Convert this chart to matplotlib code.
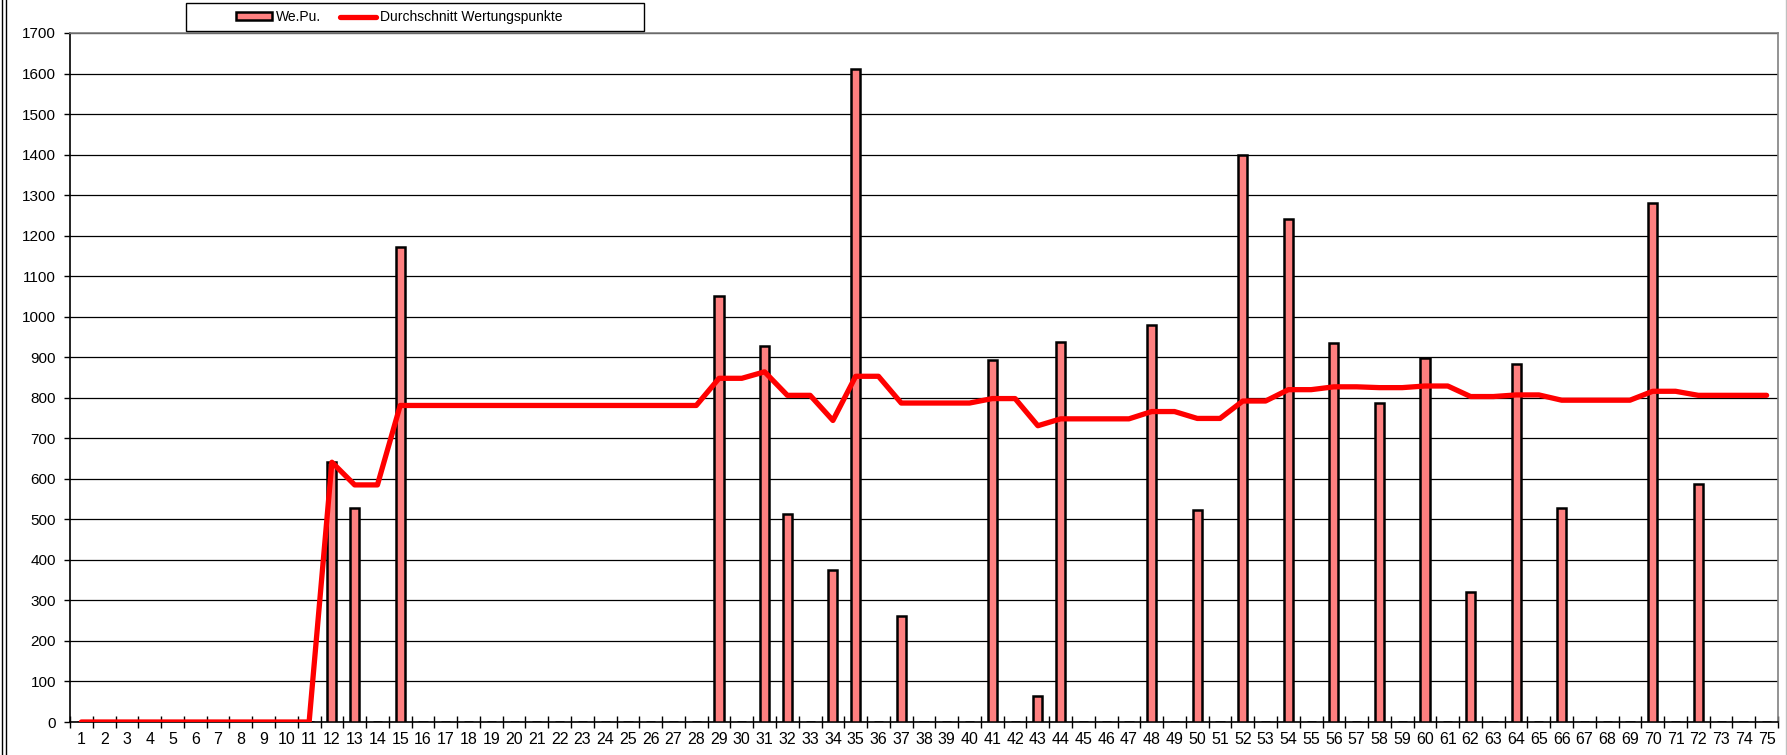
import matplotlib
matplotlib.use("Agg")
import matplotlib.pyplot as plt
from matplotlib.patches import Rectangle
from matplotlib.lines import Line2D
from matplotlib.ticker import FixedLocator, NullFormatter
from matplotlib import font_manager
import numpy as np

plt.rcParams['font.family'] = ['Liberation Sans', 'DejaVu Sans']

names = {f.name for f in font_manager.fontManager.ttflist}
narrow = 'Liberation Sans Narrow' if 'Liberation Sans Narrow' in names else 'Liberation Sans'

categories = [str(i) for i in range(1, 76)]

wepu = [0, 0, 0, 0, 0, 0, 0, 0, 0, 0,
        0, 641, 529, 0, 1173, 0, 0, 0, 0, 0,
        0, 0, 0, 0, 0, 0, 0, 0, 1050, 0,
        928, 514, 0, 375, 1612, 0, 261, 0, 0, 0,
        892, 0, 63, 937, 0, 0, 0, 980, 0, 523,
        0, 1398, 0, 1240, 0, 934, 0, 787, 0, 899,
        0, 321, 0, 883, 0, 528, 0, 0, 0, 1281,
        0, 587, 0, 0, 0]

avg = [0, 0, 0, 0, 0, 0, 0, 0, 0, 0,
       0, 641, 585, 585, 781, 781, 781, 781, 781, 781,
       781, 781, 781, 781, 781, 781, 781, 781, 848, 848,
       864, 806, 806, 744, 853, 853, 787, 787, 787, 787,
       798, 798, 731, 748, 748, 748, 748, 766, 766, 749,
       749, 792, 792, 820, 820, 827, 827, 825, 825, 829,
       829, 803, 803, 807, 807, 794, 794, 794, 794, 816,
       816, 806, 806, 806, 806]

yticks = list(range(0, 1701, 100))

W, H = 1787, 755
fig = plt.figure(figsize=(W / 100, H / 100), dpi=100)
ax = fig.add_axes([70 / W, (H - 722) / H, (1778 - 70) / W, (722 - 33) / H])

x = np.arange(1, 76)
bars = ax.bar(x, wepu, width=0.4, color='#FF8080', edgecolor='black', linewidth=1.8,
              zorder=3, label='We.Pu.')
line, = ax.plot(x, avg, color='#FF0000', linewidth=3.8, solid_capstyle='round',
                solid_joinstyle='round', zorder=4, label='Durchschnitt Wertungspunkte')

ax.set_xlim(0.5, 75.5)
ax.set_ylim(0, 1700)
ax.set_yticks(yticks)
ax.set_yticklabels([str(v) for v in yticks], fontsize=11)
ax.set_xticks(x)
ax.set_xticklabels(categories, fontsize=11.5, family=[narrow, 'DejaVu Sans'])
ax.xaxis.set_minor_locator(FixedLocator(np.arange(0.5, 76, 1.0)))
ax.xaxis.set_minor_formatter(NullFormatter())
ax.tick_params(axis='x', which='major', length=0, pad=7)
ax.tick_params(axis='x', which='minor', direction='inout', length=8, width=1, color='black')
ax.tick_params(axis='y', direction='out', length=4, width=1, pad=6)

ax.yaxis.grid(True, color='black', linewidth=0.9, zorder=0)
ax.set_axisbelow(True)
for s in ['left', 'bottom']:
    ax.spines[s].set_color('black')
    ax.spines[s].set_linewidth(1.2)
for s in ['top', 'right']:
    ax.spines[s].set_color('#808080')
    ax.spines[s].set_linewidth(1.2)

# legend box
fig.add_artist(Rectangle((186 / W, 1 - 31 / H), (644 - 186) / W, 28 / H,
                         transform=fig.transFigure, facecolor='white',
                         edgecolor='black', linewidth=1.0))
leg = fig.legend([bars, line], ['We.Pu.', 'Durchschnitt Wertungspunkte'], loc='center left',
                 bbox_to_anchor=(229 / W, 1 - 17 / H), ncol=2, frameon=False,
                 borderpad=0, fontsize=10, handlelength=2.6, handleheight=0.5,
                 handletextpad=0.25, columnspacing=1.4)

# outer frame lines
fig.add_artist(Line2D([2 / W, 2 / W], [0, 1], transform=fig.transFigure, color='black', linewidth=1.0))
fig.add_artist(Line2D([6 / W, 6 / W], [0, 1], transform=fig.transFigure, color='black', linewidth=1.0))
fig.add_artist(Line2D([1785.5 / W, 1785.5 / W], [0, 1], transform=fig.transFigure, color='#C0C0C0', linewidth=1.0))

fig.savefig('out.png', dpi=100)
